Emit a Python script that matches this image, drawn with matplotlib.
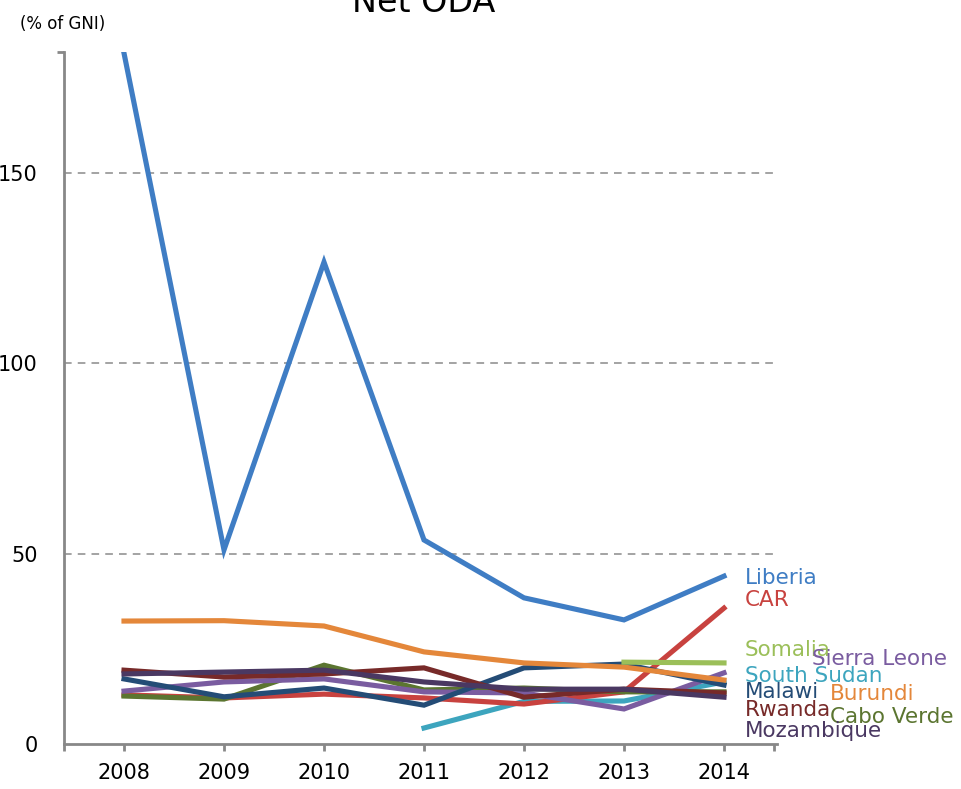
import numpy as np
import matplotlib
matplotlib.use("Agg")
import matplotlib.pyplot as plt

# data (% of GNI)
years = [2008, 2009, 2010, 2011, 2012, 2013, 2014]

liberia = [181.5, 51.0, 126.6, 53.6, 38.4, 32.6, 44.1]
car = [12.9, 12.1, 13.1, 12.1, 10.5, 13.7, 35.7]
somalia = [None, None, None, None, None, 21.5, 21.3]
sierra_leone = [13.9, 16.3, 17.1, 13.7, 13.4, 9.2, 18.7]
south_sudan = [None, None, None, 4.2, 11.2, 11.3, 16.3]
malawi = [17.1, 12.4, 14.7, 10.2, 20.0, 21.0, 15.5]
burundi = [32.3, 32.4, 31.0, 24.2, 21.3, 20.2, 16.8]
rwanda = [19.4, 17.6, 18.4, 20.0, 12.3, 14.4, 13.4]
cabo_verde = [12.6, 11.8, 20.7, 14.2, 14.7, 13.7, 13.7]
mozambique = [18.4, 18.9, 19.4, 16.3, 14.4, 14.4, 12.3]

countries = ["Liberia", "CAR", "Somalia", "Sierra Leone", "South Sudan",
             "Malawi", "Burundi", "Rwanda", "Cabo Verde", "Mozambique"]
series = [liberia, car, somalia, sierra_leone, south_sudan,
          malawi, burundi, rwanda, cabo_verde, mozambique]
colors = ["#3F7DC4", "#C8423F", "#9BBF59", "#7A5CA0", "#3DA5BE",
          "#244C76", "#E4873A", "#772A29", "#5B7530", "#4A3862"]

# where the end labels sit (x offset in years, y in data units)
label_dx = [0.21, 0.21, 0.21, 0.88, 0.21, 0.21, 1.06, 0.21, 1.06, 0.21]
label_y = [43.6, 37.8, 24.7, 22.3, 17.9, 13.7, 13.1, 8.9, 7.1, 3.4]

fig = plt.figure(figsize=(9.61, 7.89), dpi=100)
ax = fig.add_axes([64 / 961, 1 - 744 / 789, (777 - 64) / 961, (744 - 52) / 789])

y_top = 181.8
ax.set_xlim(2007.4, 2014.53)
ax.set_ylim(0, y_top)

for yv in [50, 100, 150]:
    ax.axhline(yv, color="#8a8a8a", lw=1.1, ls=(0, (5, 4)), zorder=1)

# draw back to front so the reference stacking is kept
order = [4, 1, 8, 3, 5, 7, 9, 6, 2, 0]
for i in order:
    vals = np.array([np.nan if v is None else v for v in series[i]], dtype=float)
    ax.plot(years, vals, color=colors[i], lw=3.7, solid_joinstyle="miter", zorder=3)

for name, c, dx, ly in zip(countries, colors, label_dx, label_y):
    ax.text(2014 + dx, ly, name, color=c, fontsize=15.5, va="center", ha="left",
            clip_on=False)

for s in ["top", "right"]:
    ax.spines[s].set_visible(False)
for s in ["left", "bottom"]:
    ax.spines[s].set_color("#888888")
    ax.spines[s].set_linewidth(2.0)

ax.set_xticks(years)
ax.set_xticklabels([str(y) for y in years])
ax.set_xticks([2007.4, 2014.5], minor=True)
ax.tick_params(axis="x", which="both", direction="out", length=5, width=2.0,
               color="#888888", labelsize=15, pad=9)

ax.set_yticks([0, 50, 100, 150])
ax.set_yticks([0, y_top], minor=True)
ax.tick_params(axis="y", which="major", length=0, labelsize=15, pad=19)
ax.tick_params(axis="y", which="minor", direction="out", length=5, width=2.0,
               color="#888888")

fig.text(424 / 961, 1 - 12 / 789, "Net ODA", fontsize=24, ha="center",
         va="baseline")
fig.text(20 / 961, 1 - 24 / 789, "(% of GNI)", fontsize=12, ha="left",
         va="center")

fig.savefig("out.png", dpi=100)
